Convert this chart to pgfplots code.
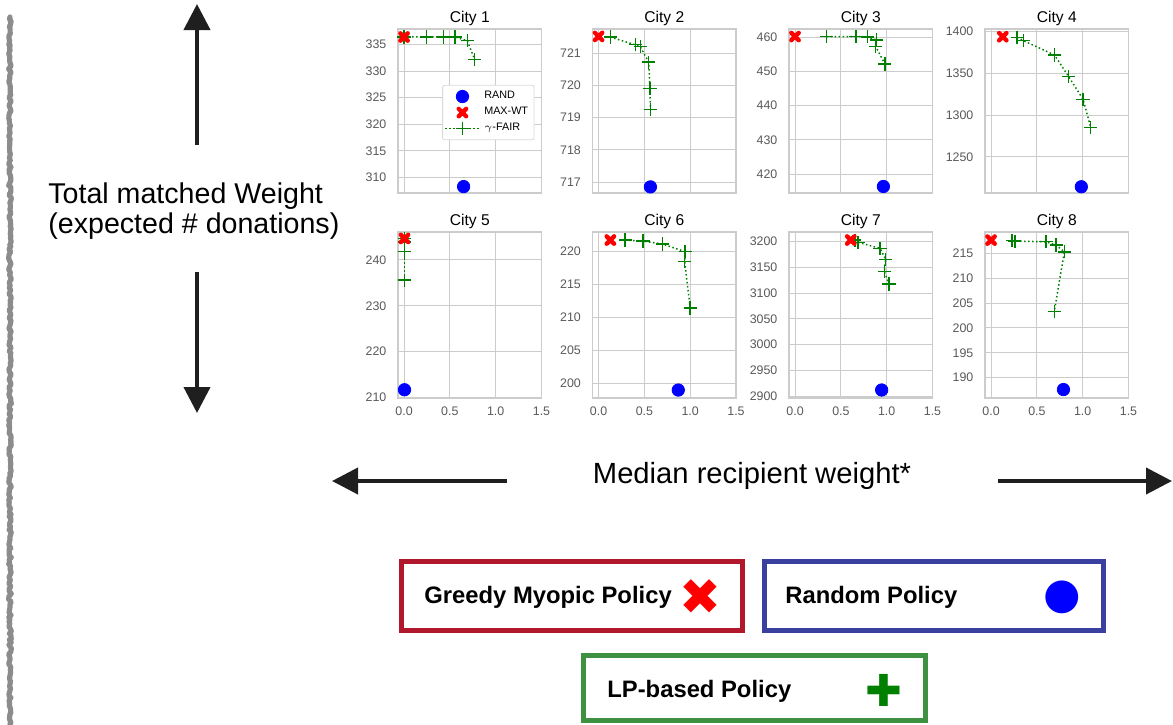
\documentclass[border=0pt]{standalone}
\usepackage{fontspec}
\setmainfont{Liberation Sans}
\newfontfamily\djv{DejaVu Sans}
\usepackage{pgfplots}
\pgfplotsset{compat=1.18}
\usetikzlibrary{arrows.meta,decorations.pathmorphing}
\definecolor{fairgreen}{RGB}{0,128,0}
\definecolor{boxred}{RGB}{178,24,43}
\definecolor{boxblue}{RGB}{58,63,160}
\definecolor{boxgreen}{RGB}{61,145,64}
\pgfplotsset{
  every axis title shift=0pt,
  randst/.style={only marks, mark=*, mark size=3.1pt, color=blue, mark options={draw=blue, fill=blue}},
  maxst/.style={only marks, mark=x, mark size=2.6pt, color=red, mark options={line width=2.2pt, line cap=round}},
  fairst/.style={color=fairgreen, mark=+, mark size=3.3pt, line width=0.75pt, dash pattern=on 0.75pt off 1.25pt, mark options={solid, line width=0.7pt}},
  cityax/.style={
    scale only axis, width=71.75pt, anchor=north west,
    xmin=-0.066, xmax=1.5, xtick={0,0.5,1,1.5},
    grid=major, major grid style={black!20, line width=0.5pt},
    axis line style={black!20, line width=0.7pt},
    tick style={draw=none},
    scaled ticks=false,
    /pgf/number format/assume math mode=true,
    /pgf/number format/1000 sep={},
    ticklabel style={font=\fontsize{6.2}{7}\selectfont, text=black!65},
    yticklabel style={xshift=-2.3pt},
    xticklabel style={yshift=-1pt},
    xticklabel={\pgfmathprintnumber[fixed,fixed zerofill,precision=1]{\tick}},
    title style={at={(0.5,1)}, anchor=base, yshift=3.5pt, font=\fontsize{7.8}{9}\selectfont},
  },
  toprow/.style={cityax, height=82pt, xticklabels={}},
  botrow/.style={cityax, height=83pt},
}
\begin{document}
\begin{tikzpicture}
% ---------- top row ----------
\begin{axis}[toprow, at={(199pt,-14.5pt)}, title={City 1},
  ymin=307.1, ymax=337.9, ytick={310,315,320,325,330,335},
  legend style={at={(0.951,0.659)}, anchor=north east, font=\fontsize{5.4}{6}\selectfont,
    draw=black!15, rounded corners=1pt, fill=white, inner sep=1pt, row sep=-1.2pt},
  legend cell align=left]
\addlegendimage{randst}\addlegendentry{RAND}
\addlegendimage{maxst}\addlegendentry{MAX-WT}
\addlegendimage{fairst}\addlegendentry{$\gamma$-FAIR}
\addplot[randst, forget plot] coordinates {(0.65,308.3)};
\addplot[fairst, forget plot] coordinates {(0.0,336.4)(0.247,336.4)(0.43,336.4)(0.556,336.4)(0.69,335.7)(0.77,332.2)};
\addplot[maxst, forget plot] coordinates {(0.0,336.4)};
\end{axis}
\begin{axis}[toprow, at={(296.25pt,-14.5pt)}, title={City 2},
  ymin=716.66, ymax=721.75, ytick={717,718,719,720,721}]
\addplot[randst] coordinates {(0.566,716.85)};
\addplot[fairst] coordinates {(0.128,721.5)(0.40,721.26)(0.456,721.2)(0.547,720.72)(0.562,719.91)(0.566,719.26)};
\addplot[maxst] coordinates {(0.0,721.52)};
\end{axis}
\begin{axis}[toprow, at={(394.5pt,-14.5pt)}, title={City 3},
  ymin=414.5, ymax=462.4, ytick={420,430,440,450,460}]
\addplot[randst] coordinates {(0.964,416.4)};
\addplot[fairst] coordinates {(0.345,460.2)(0.665,460.2)(0.79,460.1)(0.89,459.2)(0.88,457.3)(0.98,452.2)};
\addplot[maxst] coordinates {(0.0,460.2)};
\end{axis}
\begin{axis}[toprow, at={(492.5pt,-14.5pt)}, title={City 4},
  ymin=1206.5, ymax=1403.2, ytick={1250,1300,1350,1400}]
\addplot[randst] coordinates {(0.985,1214)};
\addplot[fairst] coordinates {(0.285,1393.3)(0.354,1389.2)(0.693,1372)(0.847,1346)(1.004,1319)(1.088,1285)};
\addplot[maxst] coordinates {(0.128,1394)};
\end{axis}
% ---------- bottom row ----------
\begin{axis}[botrow, at={(199pt,-116pt)}, title={City 5},
  ymin=209.9, ymax=246.1, ytick={210,220,230,240}]
\addplot[randst] coordinates {(0.005,211.7)};
\addplot[fairst] coordinates {(0.005,244.7)(0.005,243.9)(0.005,241.8)(0.005,235.6)};
\addplot[maxst] coordinates {(0.005,244.7)};
\end{axis}
\begin{axis}[botrow, at={(296.25pt,-116pt)}, title={City 6},
  ymin=197.8, ymax=222.87, ytick={200,205,210,215,220}]
\addplot[randst] coordinates {(0.87,199.0)};
\addplot[fairst] coordinates {(0.29,221.66)(0.485,221.5)(0.695,221.06)(0.945,219.9)(0.94,218.4)(1.0,211.4)};
\addplot[maxst] coordinates {(0.129,221.66)};
\end{axis}
\begin{axis}[botrow, at={(394.5pt,-116pt)}, title={City 7},
  ymin=2896.1, ymax=3218.9, ytick={2900,2950,3000,3050,3100,3150,3200}]
\addplot[randst] coordinates {(0.945,2911.7)};
\addplot[fairst] coordinates {(0.652,3203)(0.689,3198.8)(0.927,3187.1)(0.989,3165.8)(0.974,3141.7)(1.026,3117.8)};
\addplot[maxst] coordinates {(0.608,3203.3)};
\end{axis}
\begin{axis}[botrow, at={(492.5pt,-116pt)}, title={City 8},
  ymin=185.9, ymax=219.3, ytick={190,195,200,205,210,215}]
\addplot[randst] coordinates {(0.79,187.6)};
\addplot[fairst] coordinates {(0.23,217.6)(0.26,217.47)(0.6,217.33)(0.71,216.67)(0.8,215.3)(0.69,203.3)};
\addplot[maxst] coordinates {(0.0,217.67)};
\end{axis}
% ---------- decorations ----------
\begin{scope}[x=0.5pt,y=-0.5pt]
\draw[black!45, line width=2.6pt, line join=round, line cap=round, decorate, decoration={random steps, segment length=1.2pt, amplitude=0.7pt}] (10,17) -- (10,724);
\draw[black!88, line width=2pt, -{Triangle[width=13pt,length=13pt]}] (197,145) -- (197,4);
\draw[black!88, line width=2pt, -{Triangle[width=13pt,length=13pt]}] (197,272) -- (197,413);
\draw[black!88, line width=2pt, -{Triangle[width=13pt,length=13pt]}] (507,481) -- (332,481);
\draw[black!88, line width=2pt, -{Triangle[width=13pt,length=13pt]}] (998,481) -- (1172,481);
\node[anchor=base west, inner sep=0pt, font=\fontsize{14.3}{16}\selectfont] at (48,203.3) {Total matched Weight};
\node[anchor=base west, inner sep=0pt, font=\fontsize{14.3}{16}\selectfont] at (48,233.3) {(expected \# donations)};
\node[anchor=base, inner sep=0pt, font=\fontsize{14.6}{16}\selectfont] at (752,483) {Median recipient weight*};
\draw[boxred, line width=2.5pt] (401.5,561.8) rectangle (742.5,630.8);
\draw[boxblue, line width=2.5pt] (764.5,561.8) rectangle (1103,630.8);
\draw[boxgreen, line width=2.5pt] (583.5,655.5) rectangle (925.5,720.5);
\node[anchor=base west, inner sep=0pt, font=\fontsize{11.9}{14}\selectfont\bfseries] at (424,603.3) {Greedy Myopic Policy};
\node[anchor=base west, inner sep=0pt, font=\fontsize{11.9}{14}\selectfont\bfseries] at (785,603.3) {Random Policy};
\node[anchor=base west, inner sep=0pt, font=\fontsize{11.9}{14}\selectfont\bfseries] at (607,697.5) {LP-based Policy};
\node[inner sep=0pt, text=red, font=\djv\fontsize{25}{27}\selectfont] at (700,597) {✖};
\node[inner sep=0pt, text=blue, font=\djv\fontsize{21.5}{24}\selectfont] at (1062,597) {●};
\node[inner sep=0pt, text=fairgreen, font=\djv\fontsize{22}{24}\selectfont] at (884,690) {✚};
\end{scope}
\pgfresetboundingbox
\path[use as bounding box] (0pt,0pt) rectangle (586.5pt,-362pt);
\end{tikzpicture}
\end{document}
